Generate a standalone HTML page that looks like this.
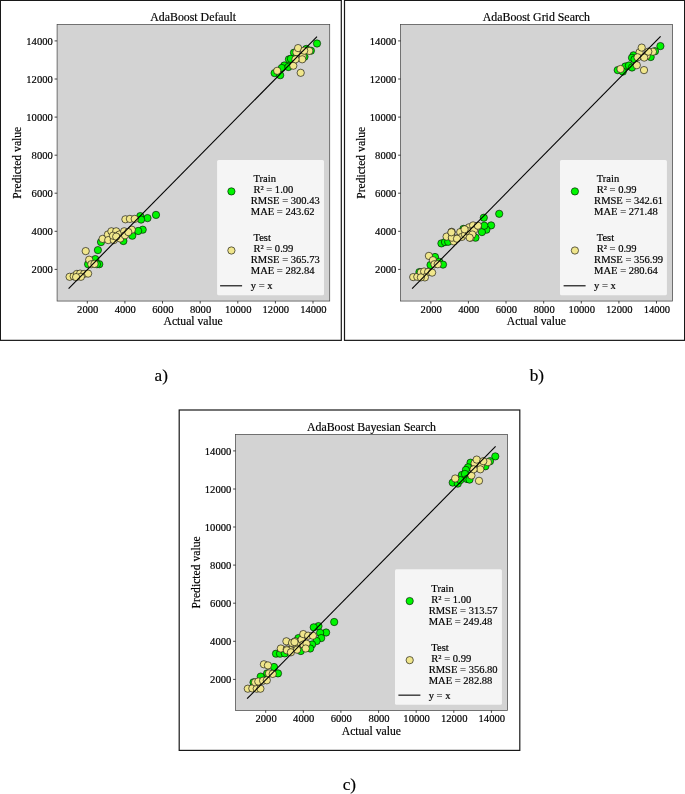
<!DOCTYPE html>
<html lang="en">
<head>
<meta charset="utf-8">
<title>AdaBoost predicted vs actual</title>
<style>
html,body{margin:0;padding:0;background:#fff;}
body{width:685px;height:794px;overflow:hidden;font-family:"Liberation Serif","Times New Roman",serif;}
svg{display:block;}
text{font-family:"Liberation Serif","Times New Roman",serif;fill:#000;stroke:#000;stroke-width:0.18px;}
.tk{font-size:10.6px;}
.lb{font-size:11.65px;}
.tt{font-size:11.85px;}
.lg{font-size:10.55px;}
.cp{font-size:17.2px;}
</style>
</head>
<body>
<svg width="685" height="794" viewBox="0 0 685 794">
<rect width="685" height="794" fill="#fff"/>
<rect x="0.4" y="0.4" width="340.9" height="339.95" fill="#fff" stroke="#181818" stroke-width="1.2"/>
<rect x="57.1" y="24.5" width="272.6" height="276.55" fill="#d3d3d3" stroke="#4a4a4a" stroke-width="0.75"/>
<line x1="87.3" y1="301.05" x2="87.3" y2="303.55" stroke="#1a1a1a" stroke-width="0.8"/>
<text x="87.7" y="312.95" class="tk" text-anchor="middle">2000</text>
<line x1="124.9" y1="301.05" x2="124.9" y2="303.55" stroke="#1a1a1a" stroke-width="0.8"/>
<text x="125.3" y="312.95" class="tk" text-anchor="middle">4000</text>
<line x1="162.5" y1="301.05" x2="162.5" y2="303.55" stroke="#1a1a1a" stroke-width="0.8"/>
<text x="162.9" y="312.95" class="tk" text-anchor="middle">6000</text>
<line x1="200.2" y1="301.05" x2="200.2" y2="303.55" stroke="#1a1a1a" stroke-width="0.8"/>
<text x="200.6" y="312.95" class="tk" text-anchor="middle">8000</text>
<line x1="237.8" y1="301.05" x2="237.8" y2="303.55" stroke="#1a1a1a" stroke-width="0.8"/>
<text x="238.2" y="312.95" class="tk" text-anchor="middle">10000</text>
<line x1="275.4" y1="301.05" x2="275.4" y2="303.55" stroke="#1a1a1a" stroke-width="0.8"/>
<text x="275.8" y="312.95" class="tk" text-anchor="middle">12000</text>
<line x1="313.0" y1="301.05" x2="313.0" y2="303.55" stroke="#1a1a1a" stroke-width="0.8"/>
<text x="313.4" y="312.95" class="tk" text-anchor="middle">14000</text>
<line x1="54.6" y1="269.4" x2="57.1" y2="269.4" stroke="#1a1a1a" stroke-width="0.8"/>
<text x="52.8" y="273.3" class="tk" text-anchor="end">2000</text>
<line x1="54.6" y1="231.3" x2="57.1" y2="231.3" stroke="#1a1a1a" stroke-width="0.8"/>
<text x="52.8" y="235.2" class="tk" text-anchor="end">4000</text>
<line x1="54.6" y1="193.2" x2="57.1" y2="193.2" stroke="#1a1a1a" stroke-width="0.8"/>
<text x="52.8" y="197.1" class="tk" text-anchor="end">6000</text>
<line x1="54.6" y1="155.2" x2="57.1" y2="155.2" stroke="#1a1a1a" stroke-width="0.8"/>
<text x="52.8" y="159.1" class="tk" text-anchor="end">8000</text>
<line x1="54.6" y1="117.1" x2="57.1" y2="117.1" stroke="#1a1a1a" stroke-width="0.8"/>
<text x="52.8" y="121.0" class="tk" text-anchor="end">10000</text>
<line x1="54.6" y1="79.0" x2="57.1" y2="79.0" stroke="#1a1a1a" stroke-width="0.8"/>
<text x="52.8" y="82.9" class="tk" text-anchor="end">12000</text>
<line x1="54.6" y1="40.9" x2="57.1" y2="40.9" stroke="#1a1a1a" stroke-width="0.8"/>
<text x="52.8" y="44.8" class="tk" text-anchor="end">14000</text>
<text x="193.2" y="20.6" class="tt" text-anchor="middle">AdaBoost Default</text>
<text x="193.1" y="325.25" class="lb" text-anchor="middle">Actual value</text>
<text transform="translate(21.2,162.78) rotate(-90)" class="lb" text-anchor="middle">Predicted value</text>
<g stroke="#000" stroke-width="0.6">
<circle cx="156.0" cy="214.9" r="3.65" fill="#00f600"/><circle cx="147.5" cy="218.1" r="3.65" fill="#00f600"/><circle cx="140.3" cy="216.1" r="3.65" fill="#00f600"/><circle cx="141.1" cy="219.6" r="3.65" fill="#00f600"/><circle cx="142.7" cy="229.7" r="3.65" fill="#00f600"/><circle cx="138.2" cy="231.0" r="3.65" fill="#00f600"/><circle cx="132.3" cy="235.7" r="3.65" fill="#00f600"/><circle cx="123.4" cy="241.0" r="3.65" fill="#00f600"/><circle cx="101.0" cy="242.1" r="3.65" fill="#00f600"/><circle cx="97.9" cy="250.1" r="3.65" fill="#00f600"/><circle cx="95.3" cy="259.1" r="3.65" fill="#00f600"/><circle cx="99.3" cy="264.2" r="3.65" fill="#00f600"/><circle cx="88.1" cy="264.2" r="3.65" fill="#00f600"/><circle cx="96.9" cy="264.2" r="3.65" fill="#00f600"/><circle cx="317.0" cy="43.5" r="3.65" fill="#00f600"/><circle cx="310.9" cy="50.7" r="3.65" fill="#00f600"/><circle cx="306.3" cy="48.9" r="3.65" fill="#00f600"/><circle cx="294.0" cy="52.7" r="3.65" fill="#00f600"/><circle cx="288.9" cy="59.3" r="3.65" fill="#00f600"/><circle cx="290.9" cy="58.8" r="3.65" fill="#00f600"/><circle cx="284.3" cy="65.5" r="3.65" fill="#00f600"/><circle cx="281.8" cy="68.0" r="3.65" fill="#00f600"/><circle cx="288.4" cy="67.0" r="3.65" fill="#00f600"/><circle cx="274.6" cy="73.1" r="3.65" fill="#00f600"/><circle cx="280.2" cy="75.2" r="3.65" fill="#00f600"/><circle cx="304.5" cy="56.8" r="3.65" fill="#00f600"/>
<circle cx="69.6" cy="276.8" r="3.65" fill="#f0e68c"/><circle cx="73.7" cy="276.3" r="3.65" fill="#f0e68c"/><circle cx="76.9" cy="273.9" r="3.65" fill="#f0e68c"/><circle cx="80.1" cy="273.6" r="3.65" fill="#f0e68c"/><circle cx="84.1" cy="273.9" r="3.65" fill="#f0e68c"/><circle cx="88.1" cy="273.6" r="3.65" fill="#f0e68c"/><circle cx="80.9" cy="276.8" r="3.65" fill="#f0e68c"/><circle cx="76.1" cy="277.1" r="3.65" fill="#f0e68c"/><circle cx="85.7" cy="251.1" r="3.65" fill="#f0e68c"/><circle cx="89.2" cy="259.7" r="3.65" fill="#f0e68c"/><circle cx="91.3" cy="264.2" r="3.65" fill="#f0e68c"/><circle cx="94.5" cy="263.9" r="3.65" fill="#f0e68c"/><circle cx="102.6" cy="238.9" r="3.65" fill="#f0e68c"/><circle cx="107.9" cy="234.5" r="3.65" fill="#f0e68c"/><circle cx="108.2" cy="240.1" r="3.65" fill="#f0e68c"/><circle cx="111.4" cy="231.3" r="3.65" fill="#f0e68c"/><circle cx="116.2" cy="231.3" r="3.65" fill="#f0e68c"/><circle cx="113.8" cy="240.1" r="3.65" fill="#f0e68c"/><circle cx="119.4" cy="234.5" r="3.65" fill="#f0e68c"/><circle cx="120.2" cy="238.5" r="3.65" fill="#f0e68c"/><circle cx="124.2" cy="231.3" r="3.65" fill="#f0e68c"/><circle cx="125.0" cy="235.3" r="3.65" fill="#f0e68c"/><circle cx="131.8" cy="229.7" r="3.65" fill="#f0e68c"/><circle cx="128.3" cy="232.1" r="3.65" fill="#f0e68c"/><circle cx="125.4" cy="219.3" r="3.65" fill="#f0e68c"/><circle cx="129.9" cy="218.9" r="3.65" fill="#f0e68c"/><circle cx="134.7" cy="218.9" r="3.65" fill="#f0e68c"/><circle cx="113.0" cy="235.7" r="3.65" fill="#f0e68c"/><circle cx="116.2" cy="236.6" r="3.65" fill="#f0e68c"/><circle cx="277.2" cy="70.8" r="3.65" fill="#f0e68c"/><circle cx="300.7" cy="72.8" r="3.65" fill="#f0e68c"/><circle cx="293.3" cy="65.7" r="3.65" fill="#f0e68c"/><circle cx="302.7" cy="56.3" r="3.65" fill="#f0e68c"/><circle cx="302.2" cy="59.3" r="3.65" fill="#f0e68c"/><circle cx="296.4" cy="52.2" r="3.65" fill="#f0e68c"/><circle cx="298.1" cy="48.1" r="3.65" fill="#f0e68c"/><circle cx="309.3" cy="50.9" r="3.65" fill="#f0e68c"/><circle cx="304.2" cy="50.7" r="3.65" fill="#f0e68c"/><circle cx="295.5" cy="59.3" r="3.65" fill="#f0e68c"/>
</g>
<line x1="68.6" y1="288.7" x2="317" y2="36.7" stroke="#000" stroke-width="1.1"/>
<rect x="217.1" y="159.9" width="106.9" height="135.4" rx="1.5" fill="#f5f5f5"/>
<circle cx="231.4" cy="191.4" r="3.65" fill="#00f600" stroke="#000" stroke-width="0.6"/>
<circle cx="231.4" cy="250.5" r="3.65" fill="#f0e68c" stroke="#000" stroke-width="0.6"/>
<line x1="220.1" y1="285.8" x2="242.1" y2="285.8" stroke="#000" stroke-width="1.1"/>
<text x="250.8" y="181.7" class="lg"> Train</text>
<text x="250.8" y="192.7" class="lg"> R² = 1.00</text>
<text x="250.8" y="203.7" class="lg">RMSE = 300.43</text>
<text x="250.8" y="214.7" class="lg">MAE = 243.62</text>
<text x="250.8" y="240.8" class="lg"> Test</text>
<text x="250.8" y="251.8" class="lg"> R² = 0.99</text>
<text x="250.8" y="262.8" class="lg">RMSE = 365.73</text>
<text x="250.8" y="273.8" class="lg">MAE = 282.84</text>
<text x="250.8" y="289.2" class="lg">y = x</text>
<rect x="344.5" y="0.4" width="340.1" height="339.95" fill="#fff" stroke="#181818" stroke-width="1.2"/>
<rect x="400.6" y="24.5" width="272.0" height="276.55" fill="#d3d3d3" stroke="#4a4a4a" stroke-width="0.75"/>
<line x1="430.8" y1="301.05" x2="430.8" y2="303.55" stroke="#1a1a1a" stroke-width="0.8"/>
<text x="431.2" y="312.95" class="tk" text-anchor="middle">2000</text>
<line x1="468.4" y1="301.05" x2="468.4" y2="303.55" stroke="#1a1a1a" stroke-width="0.8"/>
<text x="468.8" y="312.95" class="tk" text-anchor="middle">4000</text>
<line x1="506.0" y1="301.05" x2="506.0" y2="303.55" stroke="#1a1a1a" stroke-width="0.8"/>
<text x="506.4" y="312.95" class="tk" text-anchor="middle">6000</text>
<line x1="543.7" y1="301.05" x2="543.7" y2="303.55" stroke="#1a1a1a" stroke-width="0.8"/>
<text x="544.1" y="312.95" class="tk" text-anchor="middle">8000</text>
<line x1="581.3" y1="301.05" x2="581.3" y2="303.55" stroke="#1a1a1a" stroke-width="0.8"/>
<text x="581.7" y="312.95" class="tk" text-anchor="middle">10000</text>
<line x1="618.9" y1="301.05" x2="618.9" y2="303.55" stroke="#1a1a1a" stroke-width="0.8"/>
<text x="619.3" y="312.95" class="tk" text-anchor="middle">12000</text>
<line x1="656.5" y1="301.05" x2="656.5" y2="303.55" stroke="#1a1a1a" stroke-width="0.8"/>
<text x="656.9" y="312.95" class="tk" text-anchor="middle">14000</text>
<line x1="398.1" y1="269.4" x2="400.6" y2="269.4" stroke="#1a1a1a" stroke-width="0.8"/>
<text x="396.3" y="273.3" class="tk" text-anchor="end">2000</text>
<line x1="398.1" y1="231.3" x2="400.6" y2="231.3" stroke="#1a1a1a" stroke-width="0.8"/>
<text x="396.3" y="235.2" class="tk" text-anchor="end">4000</text>
<line x1="398.1" y1="193.2" x2="400.6" y2="193.2" stroke="#1a1a1a" stroke-width="0.8"/>
<text x="396.3" y="197.1" class="tk" text-anchor="end">6000</text>
<line x1="398.1" y1="155.2" x2="400.6" y2="155.2" stroke="#1a1a1a" stroke-width="0.8"/>
<text x="396.3" y="159.1" class="tk" text-anchor="end">8000</text>
<line x1="398.1" y1="117.1" x2="400.6" y2="117.1" stroke="#1a1a1a" stroke-width="0.8"/>
<text x="396.3" y="121.0" class="tk" text-anchor="end">10000</text>
<line x1="398.1" y1="79.0" x2="400.6" y2="79.0" stroke="#1a1a1a" stroke-width="0.8"/>
<text x="396.3" y="82.9" class="tk" text-anchor="end">12000</text>
<line x1="398.1" y1="40.9" x2="400.6" y2="40.9" stroke="#1a1a1a" stroke-width="0.8"/>
<text x="396.3" y="44.8" class="tk" text-anchor="end">14000</text>
<text x="536.4" y="20.6" class="tt" text-anchor="middle">AdaBoost Grid Search</text>
<text x="536.3" y="325.25" class="lb" text-anchor="middle">Actual value</text>
<text transform="translate(364.7,162.78) rotate(-90)" class="lb" text-anchor="middle">Predicted value</text>
<g stroke="#000" stroke-width="0.6">
<circle cx="499.2" cy="213.8" r="3.65" fill="#00f600"/><circle cx="483.8" cy="217.7" r="3.65" fill="#00f600"/><circle cx="491.1" cy="225.4" r="3.65" fill="#00f600"/><circle cx="486.4" cy="229.7" r="3.65" fill="#00f600"/><circle cx="481.9" cy="232.1" r="3.65" fill="#00f600"/><circle cx="484.3" cy="225.7" r="3.65" fill="#00f600"/><circle cx="475.5" cy="237.7" r="3.65" fill="#00f600"/><circle cx="441.4" cy="243.4" r="3.65" fill="#00f600"/><circle cx="445.0" cy="242.1" r="3.65" fill="#00f600"/><circle cx="448.2" cy="241.8" r="3.65" fill="#00f600"/><circle cx="463.4" cy="228.9" r="3.65" fill="#00f600"/><circle cx="435.0" cy="257.0" r="3.65" fill="#00f600"/><circle cx="439.3" cy="261.8" r="3.65" fill="#00f600"/><circle cx="443.0" cy="264.6" r="3.65" fill="#00f600"/><circle cx="430.5" cy="265.0" r="3.65" fill="#00f600"/><circle cx="419.4" cy="272.1" r="3.65" fill="#00f600"/><circle cx="660.4" cy="46.1" r="3.65" fill="#00f600"/><circle cx="655.0" cy="51.2" r="3.65" fill="#00f600"/><circle cx="650.7" cy="57.0" r="3.65" fill="#00f600"/><circle cx="633.5" cy="55.3" r="3.65" fill="#00f600"/><circle cx="632.0" cy="57.8" r="3.65" fill="#00f600"/><circle cx="634.5" cy="59.3" r="3.65" fill="#00f600"/><circle cx="625.3" cy="66.5" r="3.65" fill="#00f600"/><circle cx="628.9" cy="65.5" r="3.65" fill="#00f600"/><circle cx="632.0" cy="67.5" r="3.65" fill="#00f600"/><circle cx="617.7" cy="70.1" r="3.65" fill="#00f600"/><circle cx="622.8" cy="71.6" r="3.65" fill="#00f600"/>
<circle cx="413.2" cy="277.1" r="3.65" fill="#f0e68c"/><circle cx="417.3" cy="276.8" r="3.65" fill="#f0e68c"/><circle cx="420.9" cy="272.3" r="3.65" fill="#f0e68c"/><circle cx="424.1" cy="271.5" r="3.65" fill="#f0e68c"/><circle cx="428.1" cy="271.9" r="3.65" fill="#f0e68c"/><circle cx="432.1" cy="272.6" r="3.65" fill="#f0e68c"/><circle cx="424.9" cy="277.4" r="3.65" fill="#f0e68c"/><circle cx="420.9" cy="277.4" r="3.65" fill="#f0e68c"/><circle cx="428.9" cy="255.9" r="3.65" fill="#f0e68c"/><circle cx="432.9" cy="260.2" r="3.65" fill="#f0e68c"/><circle cx="434.5" cy="264.2" r="3.65" fill="#f0e68c"/><circle cx="437.7" cy="264.2" r="3.65" fill="#f0e68c"/><circle cx="446.6" cy="236.6" r="3.65" fill="#f0e68c"/><circle cx="451.7" cy="231.8" r="3.65" fill="#f0e68c"/><circle cx="452.2" cy="237.7" r="3.65" fill="#f0e68c"/><circle cx="456.2" cy="238.5" r="3.65" fill="#f0e68c"/><circle cx="453.8" cy="241.4" r="3.65" fill="#f0e68c"/><circle cx="460.2" cy="232.1" r="3.65" fill="#f0e68c"/><circle cx="461.8" cy="236.9" r="3.65" fill="#f0e68c"/><circle cx="465.0" cy="234.5" r="3.65" fill="#f0e68c"/><circle cx="469.1" cy="227.3" r="3.65" fill="#f0e68c"/><circle cx="468.3" cy="231.3" r="3.65" fill="#f0e68c"/><circle cx="470.7" cy="237.7" r="3.65" fill="#f0e68c"/><circle cx="473.1" cy="225.4" r="3.65" fill="#f0e68c"/><circle cx="473.9" cy="230.5" r="3.65" fill="#f0e68c"/><circle cx="477.9" cy="225.7" r="3.65" fill="#f0e68c"/><circle cx="472.3" cy="234.5" r="3.65" fill="#f0e68c"/><circle cx="620.5" cy="69.0" r="3.65" fill="#f0e68c"/><circle cx="644.0" cy="70.1" r="3.65" fill="#f0e68c"/><circle cx="636.8" cy="65.2" r="3.65" fill="#f0e68c"/><circle cx="646.6" cy="55.8" r="3.65" fill="#f0e68c"/><circle cx="639.6" cy="52.2" r="3.65" fill="#f0e68c"/><circle cx="641.7" cy="47.6" r="3.65" fill="#f0e68c"/><circle cx="652.9" cy="51.7" r="3.65" fill="#f0e68c"/><circle cx="648.3" cy="51.7" r="3.65" fill="#f0e68c"/><circle cx="637.6" cy="57.3" r="3.65" fill="#f0e68c"/><circle cx="644.2" cy="57.6" r="3.65" fill="#f0e68c"/><circle cx="451.9" cy="237.7" r="3.65" fill="#f0e68c"/><circle cx="457.0" cy="238.7" r="3.65" fill="#f0e68c"/><circle cx="469.7" cy="237.7" r="3.65" fill="#f0e68c"/><circle cx="464.6" cy="229.3" r="3.65" fill="#f0e68c"/><circle cx="451.4" cy="232.3" r="3.65" fill="#f0e68c"/>
</g>
<line x1="412.1" y1="288.7" x2="660.6" y2="36.4" stroke="#000" stroke-width="1.1"/>
<rect x="560.0" y="159.9" width="106.9" height="135.4" rx="1.5" fill="#f5f5f5"/>
<circle cx="574.9" cy="191.4" r="3.65" fill="#00f600" stroke="#000" stroke-width="0.6"/>
<circle cx="574.9" cy="250.5" r="3.65" fill="#f0e68c" stroke="#000" stroke-width="0.6"/>
<line x1="563.6" y1="285.8" x2="585.6" y2="285.8" stroke="#000" stroke-width="1.1"/>
<text x="594.1" y="181.7" class="lg"> Train</text>
<text x="594.1" y="192.7" class="lg"> R² = 0.99</text>
<text x="594.1" y="203.7" class="lg">RMSE = 342.61</text>
<text x="594.1" y="214.7" class="lg">MAE = 271.48</text>
<text x="594.1" y="240.8" class="lg"> Test</text>
<text x="594.1" y="251.8" class="lg"> R² = 0.99</text>
<text x="594.1" y="262.8" class="lg">RMSE = 356.99</text>
<text x="594.1" y="273.8" class="lg">MAE = 280.64</text>
<text x="594.1" y="289.2" class="lg">y = x</text>
<rect x="179.2" y="410.0" width="340.6" height="340.4" fill="#fff" stroke="#181818" stroke-width="1.2"/>
<rect x="235.6" y="434.4" width="272.0" height="276.0" fill="#d3d3d3" stroke="#4a4a4a" stroke-width="0.75"/>
<line x1="265.7" y1="710.4" x2="265.7" y2="712.9" stroke="#1a1a1a" stroke-width="0.8"/>
<text x="266.1" y="722.3" class="tk" text-anchor="middle">2000</text>
<line x1="303.3" y1="710.4" x2="303.3" y2="712.9" stroke="#1a1a1a" stroke-width="0.8"/>
<text x="303.7" y="722.3" class="tk" text-anchor="middle">4000</text>
<line x1="340.9" y1="710.4" x2="340.9" y2="712.9" stroke="#1a1a1a" stroke-width="0.8"/>
<text x="341.3" y="722.3" class="tk" text-anchor="middle">6000</text>
<line x1="378.6" y1="710.4" x2="378.6" y2="712.9" stroke="#1a1a1a" stroke-width="0.8"/>
<text x="379.0" y="722.3" class="tk" text-anchor="middle">8000</text>
<line x1="416.2" y1="710.4" x2="416.2" y2="712.9" stroke="#1a1a1a" stroke-width="0.8"/>
<text x="416.6" y="722.3" class="tk" text-anchor="middle">10000</text>
<line x1="453.8" y1="710.4" x2="453.8" y2="712.9" stroke="#1a1a1a" stroke-width="0.8"/>
<text x="454.2" y="722.3" class="tk" text-anchor="middle">12000</text>
<line x1="491.4" y1="710.4" x2="491.4" y2="712.9" stroke="#1a1a1a" stroke-width="0.8"/>
<text x="491.8" y="722.3" class="tk" text-anchor="middle">14000</text>
<line x1="233.1" y1="679.4" x2="235.6" y2="679.4" stroke="#1a1a1a" stroke-width="0.8"/>
<text x="231.3" y="683.3" class="tk" text-anchor="end">2000</text>
<line x1="233.1" y1="641.3" x2="235.6" y2="641.3" stroke="#1a1a1a" stroke-width="0.8"/>
<text x="231.3" y="645.2" class="tk" text-anchor="end">4000</text>
<line x1="233.1" y1="603.2" x2="235.6" y2="603.2" stroke="#1a1a1a" stroke-width="0.8"/>
<text x="231.3" y="607.1" class="tk" text-anchor="end">6000</text>
<line x1="233.1" y1="565.1" x2="235.6" y2="565.1" stroke="#1a1a1a" stroke-width="0.8"/>
<text x="231.3" y="569.0" class="tk" text-anchor="end">8000</text>
<line x1="233.1" y1="527.0" x2="235.6" y2="527.0" stroke="#1a1a1a" stroke-width="0.8"/>
<text x="231.3" y="530.9" class="tk" text-anchor="end">10000</text>
<line x1="233.1" y1="489.0" x2="235.6" y2="489.0" stroke="#1a1a1a" stroke-width="0.8"/>
<text x="231.3" y="492.9" class="tk" text-anchor="end">12000</text>
<line x1="233.1" y1="450.9" x2="235.6" y2="450.9" stroke="#1a1a1a" stroke-width="0.8"/>
<text x="231.3" y="454.8" class="tk" text-anchor="end">14000</text>
<text x="371.4" y="430.5" class="tt" text-anchor="middle">AdaBoost Bayesian Search</text>
<text x="371.3" y="734.6" class="lb" text-anchor="middle">Actual value</text>
<text transform="translate(199.7,572.4) rotate(-90)" class="lb" text-anchor="middle">Predicted value</text>
<g stroke="#000" stroke-width="0.6">
<circle cx="334.2" cy="622.0" r="3.65" fill="#00f600"/><circle cx="318.5" cy="626.1" r="3.65" fill="#00f600"/><circle cx="313.7" cy="627.3" r="3.65" fill="#00f600"/><circle cx="326.1" cy="632.5" r="3.65" fill="#00f600"/><circle cx="320.1" cy="632.8" r="3.65" fill="#00f600"/><circle cx="321.2" cy="638.1" r="3.65" fill="#00f600"/><circle cx="316.6" cy="641.0" r="3.65" fill="#00f600"/><circle cx="312.1" cy="644.5" r="3.65" fill="#00f600"/><circle cx="310.2" cy="648.5" r="3.65" fill="#00f600"/><circle cx="300.8" cy="651.0" r="3.65" fill="#00f600"/><circle cx="298.4" cy="638.1" r="3.65" fill="#00f600"/><circle cx="276.0" cy="653.7" r="3.65" fill="#00f600"/><circle cx="280.0" cy="653.7" r="3.65" fill="#00f600"/><circle cx="284.8" cy="653.4" r="3.65" fill="#00f600"/><circle cx="274.0" cy="667.0" r="3.65" fill="#00f600"/><circle cx="278.0" cy="673.4" r="3.65" fill="#00f600"/><circle cx="267.1" cy="673.4" r="3.65" fill="#00f600"/><circle cx="260.7" cy="676.6" r="3.65" fill="#00f600"/><circle cx="253.5" cy="682.3" r="3.65" fill="#00f600"/><circle cx="495.3" cy="456.4" r="3.65" fill="#00f600"/><circle cx="490.0" cy="461.2" r="3.65" fill="#00f600"/><circle cx="485.4" cy="466.3" r="3.65" fill="#00f600"/><circle cx="470.5" cy="462.7" r="3.65" fill="#00f600"/><circle cx="468.0" cy="467.3" r="3.65" fill="#00f600"/><circle cx="465.9" cy="469.9" r="3.65" fill="#00f600"/><circle cx="461.9" cy="475.0" r="3.65" fill="#00f600"/><circle cx="464.9" cy="473.9" r="3.65" fill="#00f600"/><circle cx="467.0" cy="479.0" r="3.65" fill="#00f600"/><circle cx="469.5" cy="479.6" r="3.65" fill="#00f600"/><circle cx="452.7" cy="482.6" r="3.65" fill="#00f600"/><circle cx="457.8" cy="483.6" r="3.65" fill="#00f600"/><circle cx="460.3" cy="480.1" r="3.65" fill="#00f600"/>
<circle cx="247.8" cy="688.7" r="3.65" fill="#f0e68c"/><circle cx="252.3" cy="688.4" r="3.65" fill="#f0e68c"/><circle cx="256.7" cy="688.7" r="3.65" fill="#f0e68c"/><circle cx="260.4" cy="688.7" r="3.65" fill="#f0e68c"/><circle cx="255.1" cy="682.3" r="3.65" fill="#f0e68c"/><circle cx="258.3" cy="681.5" r="3.65" fill="#f0e68c"/><circle cx="263.1" cy="680.7" r="3.65" fill="#f0e68c"/><circle cx="266.8" cy="680.3" r="3.65" fill="#f0e68c"/><circle cx="263.9" cy="664.3" r="3.65" fill="#f0e68c"/><circle cx="267.9" cy="665.4" r="3.65" fill="#f0e68c"/><circle cx="269.0" cy="673.4" r="3.65" fill="#f0e68c"/><circle cx="272.7" cy="673.9" r="3.65" fill="#f0e68c"/><circle cx="280.8" cy="648.5" r="3.65" fill="#f0e68c"/><circle cx="286.4" cy="641.3" r="3.65" fill="#f0e68c"/><circle cx="286.7" cy="649.3" r="3.65" fill="#f0e68c"/><circle cx="290.4" cy="650.1" r="3.65" fill="#f0e68c"/><circle cx="292.0" cy="642.9" r="3.65" fill="#f0e68c"/><circle cx="295.2" cy="641.3" r="3.65" fill="#f0e68c"/><circle cx="297.6" cy="644.5" r="3.65" fill="#f0e68c"/><circle cx="296.8" cy="648.5" r="3.65" fill="#f0e68c"/><circle cx="301.6" cy="639.7" r="3.65" fill="#f0e68c"/><circle cx="303.3" cy="634.1" r="3.65" fill="#f0e68c"/><circle cx="303.3" cy="644.5" r="3.65" fill="#f0e68c"/><circle cx="306.5" cy="643.7" r="3.65" fill="#f0e68c"/><circle cx="308.1" cy="635.7" r="3.65" fill="#f0e68c"/><circle cx="312.9" cy="635.7" r="3.65" fill="#f0e68c"/><circle cx="305.7" cy="648.5" r="3.65" fill="#f0e68c"/><circle cx="455.2" cy="478.5" r="3.65" fill="#f0e68c"/><circle cx="479.0" cy="480.8" r="3.65" fill="#f0e68c"/><circle cx="471.4" cy="475.5" r="3.65" fill="#f0e68c"/><circle cx="480.8" cy="465.8" r="3.65" fill="#f0e68c"/><circle cx="480.3" cy="469.3" r="3.65" fill="#f0e68c"/><circle cx="474.6" cy="463.2" r="3.65" fill="#f0e68c"/><circle cx="476.7" cy="459.6" r="3.65" fill="#f0e68c"/><circle cx="487.9" cy="462.2" r="3.65" fill="#f0e68c"/><circle cx="483.3" cy="461.2" r="3.65" fill="#f0e68c"/><circle cx="473.6" cy="469.3" r="3.65" fill="#f0e68c"/><circle cx="286.9" cy="650.3" r="3.65" fill="#f0e68c"/><circle cx="290.9" cy="652.3" r="3.65" fill="#f0e68c"/><circle cx="297.1" cy="649.7" r="3.65" fill="#f0e68c"/><circle cx="294.5" cy="642.1" r="3.65" fill="#f0e68c"/>
</g>
<line x1="247.1" y1="698.7" x2="495.6" y2="446.4" stroke="#000" stroke-width="1.1"/>
<rect x="395.0" y="569.25" width="106.9" height="135.4" rx="1.5" fill="#f5f5f5"/>
<circle cx="409.7" cy="601.05" r="3.65" fill="#00f600" stroke="#000" stroke-width="0.6"/>
<circle cx="409.7" cy="660.15" r="3.65" fill="#f0e68c" stroke="#000" stroke-width="0.6"/>
<line x1="398.4" y1="695.15" x2="420.4" y2="695.15" stroke="#000" stroke-width="1.1"/>
<text x="428.7" y="591.9" class="lg"> Train</text>
<text x="428.7" y="602.9" class="lg"> R² = 1.00</text>
<text x="428.7" y="613.9" class="lg">RMSE = 313.57</text>
<text x="428.7" y="624.9" class="lg">MAE = 249.48</text>
<text x="428.7" y="651.0" class="lg"> Test</text>
<text x="428.7" y="662.0" class="lg"> R² = 0.99</text>
<text x="428.7" y="673.0" class="lg">RMSE = 356.80</text>
<text x="428.7" y="684.0" class="lg">MAE = 282.88</text>
<text x="428.7" y="698.5" class="lg">y = x</text>
<text x="161.2" y="380.9" class="cp" text-anchor="middle">a)</text><text x="536.8" y="380.9" class="cp" text-anchor="middle">b)</text><text x="349.4" y="789.7" class="cp" text-anchor="middle">c)</text>
</svg>
</body>
</html>
